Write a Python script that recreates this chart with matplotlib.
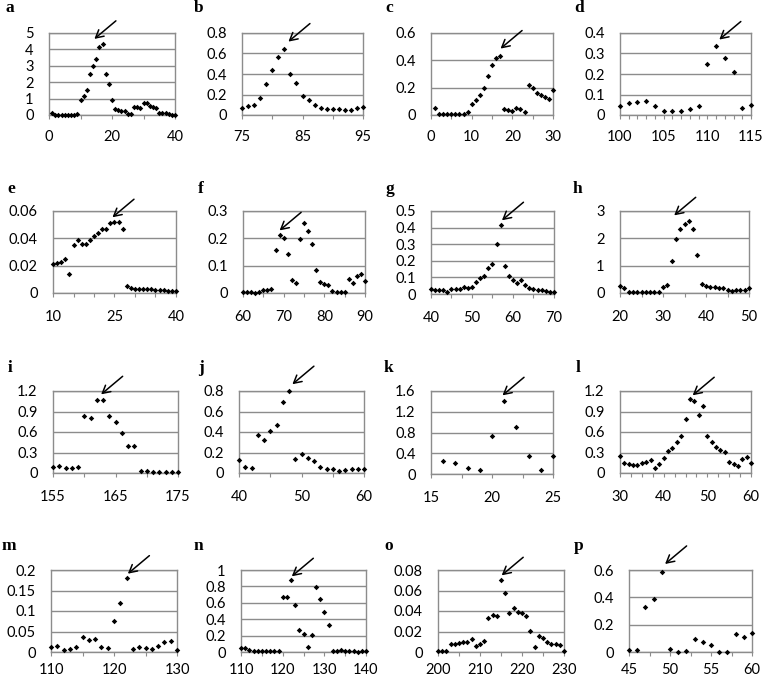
import numpy as np
import matplotlib
matplotlib.use("Agg")
import matplotlib.pyplot as plt
from matplotlib.ticker import FixedLocator, FuncFormatter

# ---------------- data ----------------
a_x0 = 1
a_vals = [0.14, 0.03, 0.03, 0.03, 0.03, 0.03, 0.03, 0.03, 0.06, 0.9, 1.13, 1.5, 2.5, 2.96,
          3.43, 4.13, 4.3, 2.52, 1.9, 0.89, 0.34, 0.3, 0.24, 0.26, 0.08, 0.08, 0.46, 0.46,
          0.4, 0.75, 0.75, 0.56, 0.48, 0.42, 0.12, 0.12, 0.1, 0.04, 0.03, 0.03]
b_x0 = 75
b_vals = [0.068, 0.084, 0.097, 0.17, 0.30, 0.44, 0.57, 0.64, 0.40, 0.31, 0.19, 0.145, 0.10,
          0.065, 0.055, 0.055, 0.055, 0.052, 0.052, 0.068, 0.077]
c_x0 = 1
c_vals = [0.053, 0.005, 0.005, 0.005, 0.005, 0.005, 0.005, 0.007, 0.024, 0.078, 0.11, 0.143,
          0.2, 0.287, 0.367, 0.418, 0.432, 0.044, 0.039, 0.032, 0.049, 0.044, 0.022, 0.216,
          0.197, 0.163, 0.146, 0.131, 0.117, 0.18]
d_x0 = 100
d_vals = [0.044, 0.057, 0.065, 0.066, 0.045, 0.021, 0.021, 0.021, 0.028, 0.045, 0.249, 0.337,
          0.28, 0.212, 0.036, 0.047]
e_x0 = 10
e_vals = [0.0215, 0.022, 0.023, 0.025, 0.014, 0.035, 0.0385, 0.036, 0.0356, 0.039, 0.0415,
          0.044, 0.047, 0.047, 0.0515, 0.052, 0.052, 0.047, 0.0049, 0.0034, 0.0032, 0.003,
          0.003, 0.0028, 0.0027, 0.0025, 0.0023, 0.002, 0.0018, 0.0016, 0.0015]
f_x0 = 60
f_vals = [0.002, 0.002, 0.002, 0.001, 0.005, 0.01, 0.012, 0.016, 0.156, 0.211, 0.202, 0.143,
          0.048, 0.035, 0.199, 0.255, 0.227, 0.18, 0.085, 0.04, 0.034, 0.028, 0.0085, 0.002,
          0.002, 0.005, 0.051, 0.037, 0.061, 0.07, 0.043]
g_x0 = 40
g_vals = [0.028, 0.026, 0.024, 0.024, 0.014, 0.03, 0.03, 0.03, 0.042, 0.036, 0.044, 0.073,
          0.095, 0.111, 0.157, 0.18, 0.30, 0.415, 0.171, 0.109, 0.085, 0.067, 0.085, 0.054,
          0.036, 0.03, 0.022, 0.022, 0.02, 0.012, 0.012]
h_x0 = 20
h_vals = [0.24, 0.17, 0.05, 0.03, 0.02, 0.02, 0.03, 0.03, 0.03, 0.03, 0.22, 0.3, 1.17, 1.98,
          2.34, 2.54, 2.63, 2.34, 1.38, 0.32, 0.26, 0.21, 0.21, 0.2, 0.2, 0.12, 0.085, 0.11,
          0.11, 0.11, 0.17]
i_x0 = 155
i_vals = [0.089, 0.098, 0.079, 0.079, 0.093, 0.84, 0.81, 1.07, 1.07, 0.84, 0.74, 0.58, 0.4,
          0.4, 0.03, 0.03, 0.02, 0.02, 0.015, 0.015, 0.02]
j_x0 = 40
j_vals = [0.122, 0.063, 0.053, 0.367, 0.32, 0.41, 0.47, 0.69, 0.797, 0.139, 0.19, 0.149,
          0.119, 0.056, 0.043, 0.04, 0.023, 0.033, 0.036, 0.036, 0.036]
k_x0 = 16
k_vals = [0.26, 0.22, 0.11, 0.07, 0.73, 1.41, 0.9, 0.355, 0.077, 0.35]
l_x0 = 30
l_vals = [0.243, 0.15, 0.136, 0.112, 0.121, 0.141, 0.165, 0.19, 0.073, 0.136, 0.224, 0.316,
          0.364, 0.447, 0.54, 0.797, 1.083, 1.05, 0.845, 0.98, 0.54, 0.452, 0.379, 0.34,
          0.306, 0.155, 0.136, 0.107, 0.209, 0.233, 0.146]
m_x0 = 110
m_vals = [0.011, 0.0146, 0.0057, 0.0073, 0.011, 0.037, 0.03, 0.0316, 0.012, 0.0097, 0.0745,
          0.12, 0.18, 0.0065, 0.013, 0.0105, 0.0073, 0.015, 0.0235, 0.026, 0.005]
n_x0 = 110
n_vals = [0.053, 0.053, 0.02, 0.008, 0.008, 0.008, 0.008, 0.008, 0.008, 0.016, 0.67, 0.67,
          0.874, 0.577, 0.264, 0.22, 0.061, 0.203, 0.789, 0.65, 0.49, 0.325, 0.012, 0.012,
          0.024, 0.012, 0.012, 0.012, 0.004, 0.008, 0.008]
o_x0 = 200
o_vals = [0.0006, 0.0006, 0.0006, 0.0075, 0.0075, 0.0087, 0.01, 0.01, 0.0123, 0.006, 0.0075,
          0.0104, 0.0327, 0.0363, 0.0347, 0.07, 0.058, 0.038, 0.043, 0.0395, 0.038, 0.035,
          0.0207, 0.0049, 0.0155, 0.0139, 0.0097, 0.0081, 0.0081, 0.0068, 0.001]
p_x0 = 45
p_vals = [0.012, 0.017, 0.33, 0.385, 0.585, 0.022, 0.003, 0.005, 0.097, 0.07, 0.052, 0.0, 0.0,
          0.135, 0.11, 0.137]

# arrow tips (data coordinates) marking the peak of each panel
arrow_tips = {
    'a': (14.4, 4.64), 'b': (82.67, 0.716), 'c': (17.1, 0.486), 'd': (111.37, 0.368),
    'e': (24.5, 0.0554), 'f': (69.0, 0.229), 'g': (57.3, 0.444), 'h': (32.6, 2.84),
    'i': (162.7, 1.151), 'j': (48.54, 0.866), 'k': (20.86, 1.516), 'l': (46.64, 1.137),
    'm': (122.2, 0.191), 'n': (122.19, 0.923), 'o': (215.16, 0.0748), 'p': (49.4, 0.644),
}

series = {
    'a': (a_x0, a_vals), 'b': (b_x0, b_vals), 'c': (c_x0, c_vals), 'd': (d_x0, d_vals),
    'e': (e_x0, e_vals), 'f': (f_x0, f_vals), 'g': (g_x0, g_vals), 'h': (h_x0, h_vals),
    'i': (i_x0, i_vals), 'j': (j_x0, j_vals), 'k': (k_x0, k_vals), 'l': (l_x0, l_vals),
    'm': (m_x0, m_vals), 'n': (n_x0, n_vals), 'o': (o_x0, o_vals), 'p': (p_x0, p_vals),
}

# axis settings: xlim, x label step, x minor step, ylim top, y step
axis_cfg = {
    'a': ((0, 40), 20, 10, 5, 1), 'b': ((75, 95), 10, 5, 0.8, 0.2),
    'c': ((0, 30), 10, 5, 0.6, 0.2), 'd': ((100, 115), 5, 1, 0.4, 0.1),
    'e': ((10, 40), 15, 5, 0.06, 0.02), 'f': ((60, 90), 10, 5, 0.3, 0.1),
    'g': ((40, 70), 10, 5, 0.5, 0.1), 'h': ((20, 50), 10, 5, 3, 1),
    'i': ((155, 175), 10, 5, 1.2, 0.3), 'j': ((40, 60), 10, 5, 0.8, 0.2),
    'k': ((15, 25), 5, 2.5, 1.6, 0.4), 'l': ((30, 60), 10, 2.5, 1.2, 0.3),
    'm': ((110, 130), 10, 5, 0.2, 0.05), 'n': ((110, 140), 10, 5, 1, 0.2),
    'o': ((200, 230), 10, 5, 0.08, 0.02), 'p': ((45, 60), 5, 2.5, 0.6, 0.2),
}

# ---------------- layout (pixels in a 763x680 canvas) ----------------
W, H = 763, 680
boxes = {  # left, right, top, bottom
    'a': (49, 175, 33, 115), 'b': (242, 363, 33, 115), 'c': (431, 553, 33, 115), 'd': (620, 751, 33, 115),
    'e': (53, 176, 211, 293), 'f': (243, 365, 211, 293), 'g': (431, 554, 211, 294), 'h': (620, 749, 211, 293),
    'i': (53, 178, 391, 473), 'j': (239, 364, 391, 473), 'k': (431, 553, 391, 474), 'l': (620, 751, 391, 473),
    'm': (51, 177, 570, 652), 'n': (241, 366, 570, 652), 'o': (438, 564, 570, 652), 'p': (629, 752, 570, 652),
}
label_pos = {  # x, baseline y
    'a': (6, 12), 'b': (194, 12), 'c': (385, 12), 'd': (574, 12),
    'e': (7, 193), 'f': (198, 193), 'g': (385, 193), 'h': (573, 193),
    'i': (8, 372), 'j': (198, 372), 'k': (384, 372), 'l': (576, 372),
    'm': (2, 550), 'n': (194, 550), 'o': (384, 550), 'p': (574, 550),
}
x_label_pad = {'row1': 7.5, 'row2': 9.5, 'row3': 9.5, 'row4': 5.0}

GRAY = '#8c8c8c'
plt.rcParams['font.family'] = ['Lato', 'DejaVu Sans']

fig = plt.figure(figsize=(W / 100, H / 100), dpi=100)
fmt = FuncFormatter(lambda v, _: f"{round(v, 5):g}")

for idx, key in enumerate('abcdefghijklmnop'):
    L, R, T, B = boxes[key]
    ax = fig.add_axes([L / W, 1 - B / H, (R - L) / W, (B - T) / H])
    x0, vals = series[key]
    xs = x0 + np.arange(len(vals))
    ax.plot(xs, vals, linestyle='none', marker='D', markersize=2.8, color='black',
            markeredgewidth=0, clip_on=False, zorder=3)
    xlim, xstep, xminor, ytop, ystep = axis_cfg[key]
    ax.set_xlim(*xlim)
    ax.set_ylim(0, ytop)
    ax.xaxis.set_major_locator(FixedLocator(np.arange(xlim[0], xlim[1] + 1e-9, xstep)))
    ax.xaxis.set_minor_locator(FixedLocator(np.arange(xlim[0], xlim[1] + 1e-9, xminor)))
    ax.yaxis.set_major_locator(FixedLocator(np.arange(0, ytop + 1e-9, ystep)))
    ax.xaxis.set_major_formatter(fmt)
    ax.yaxis.set_major_formatter(fmt)
    ax.grid(axis='y', color=GRAY, linewidth=1.0)
    ax.set_axisbelow(True)
    for s in ax.spines.values():
        s.set_color(GRAY)
        s.set_linewidth(1.0)
    xpad = x_label_pad['row%d' % (idx // 4 + 1)]
    ax.tick_params(axis='x', which='both', direction='out', length=3, width=0.8,
                   color=GRAY, labelsize=10.5, pad=xpad)
    ax.tick_params(axis='y', which='both', length=0, labelsize=10.5, pad=11)
    tip = arrow_tips[key]
    ax.annotate('', xy=tip, xycoords='data', xytext=(15.5, 13), textcoords='offset points',
                arrowprops=dict(arrowstyle='->,head_length=0.55,head_width=0.3',
                                color='black', lw=1.1, shrinkA=0, shrinkB=0),
                annotation_clip=False)
    lx, ly = label_pos[key]
    fig.text(lx / W, 1 - ly / H, key, family='Liberation Serif', fontweight='bold',
             fontsize=12.5, ha='left', va='baseline')

fig.savefig('out.png', dpi=100)
